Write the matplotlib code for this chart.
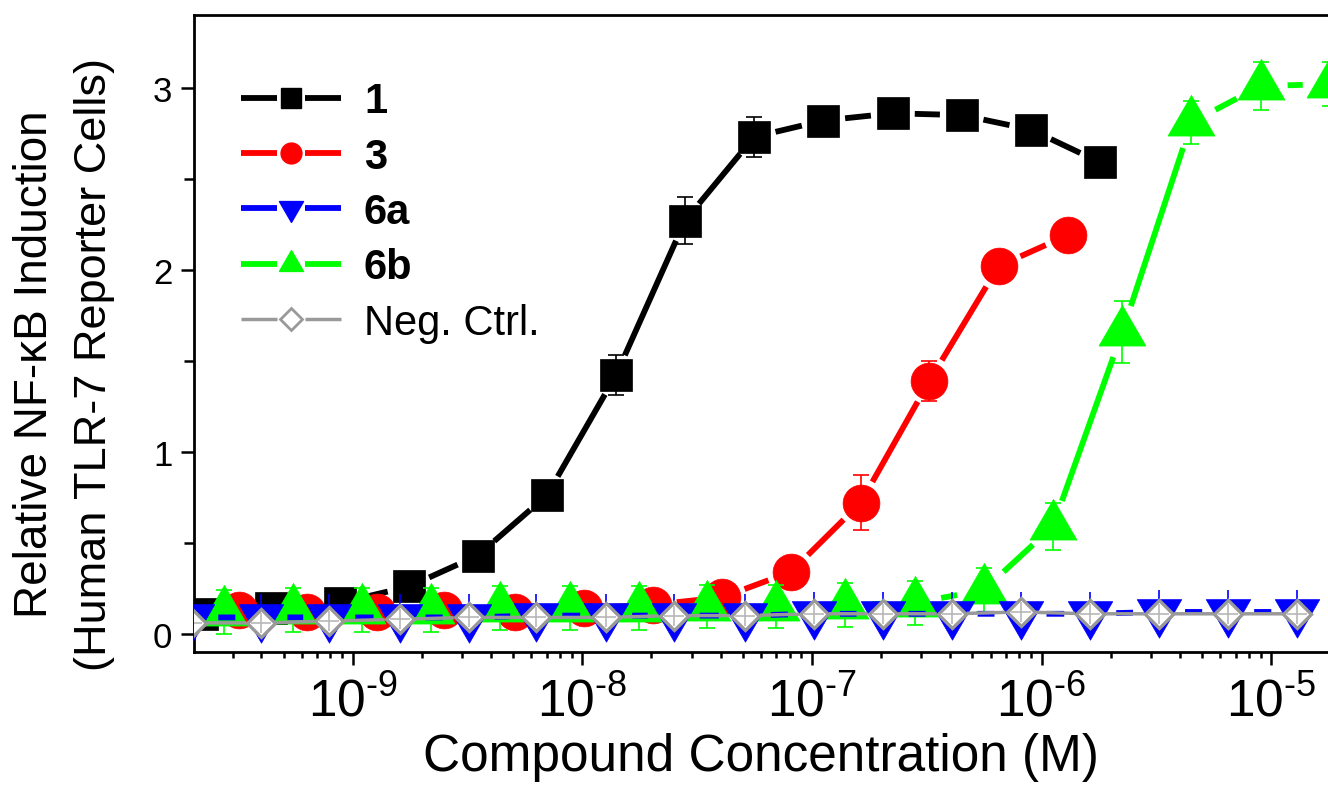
import numpy as np
import matplotlib
matplotlib.use("Agg")
import matplotlib.pyplot as plt
from matplotlib.lines import Line2D
from matplotlib.path import Path
from matplotlib.legend_handler import HandlerBase
from matplotlib.ticker import LogLocator, NullFormatter, MultipleLocator

plt.rcParams['font.family'] = ['Liberation Sans', 'DejaVu Sans']
plt.rcParams['mathtext.fontset'] = 'custom'
plt.rcParams['mathtext.rm'] = 'Liberation Sans'
plt.rcParams['mathtext.it'] = 'Liberation Sans:italic'
plt.rcParams['mathtext.bf'] = 'Liberation Sans:bold'

# compound 1
conc_1 = [2.2e-10, 4.4e-10, 8.8e-10, 1.76e-9, 3.5e-9, 7.0e-9, 1.4e-8, 2.8e-8,
          5.6e-8, 1.12e-7, 2.25e-7, 4.5e-7, 9.0e-7, 1.8e-6]
resp_1 = [0.11, 0.14, 0.17, 0.26, 0.43, 0.76, 1.42, 2.27, 2.73, 2.82, 2.86, 2.85, 2.77, 2.59]
err_1 = [0.02, 0.02, 0.02, 0.03, 0.04, 0.05, 0.11, 0.13, 0.11, 0.03, 0.03, 0.03, 0.03, 0.04]

# compound 3
conc_3 = [3.2e-10, 6.3e-10, 1.27e-9, 2.5e-9, 5.1e-9, 1.02e-8, 2.03e-8, 4.06e-8,
          8.1e-8, 1.63e-7, 3.25e-7, 6.5e-7, 1.3e-6]
resp_3 = [0.13, 0.12, 0.12, 0.13, 0.12, 0.14, 0.16, 0.20, 0.34, 0.72, 1.39, 2.02, 2.19]
err_3 = [0.03, 0.03, 0.03, 0.03, 0.04, 0.04, 0.04, 0.03, 0.04, 0.15, 0.11, 0.04, 0.03]

# compound 6a
conc_6a = [2.0e-10, 4.0e-10, 7.9e-10, 1.6e-9, 3.2e-9, 6.3e-9, 1.27e-8, 2.5e-8, 5.1e-8,
           1.02e-7, 2.03e-7, 4.06e-7, 8.1e-7, 1.63e-6, 3.25e-6, 6.5e-6, 1.3e-5]
resp_6a = [0.09, 0.09, 0.09, 0.09, 0.09, 0.10, 0.10, 0.10, 0.10, 0.11, 0.11, 0.11,
           0.11, 0.11, 0.12, 0.12, 0.12]
err_6a = [0.13, 0.13, 0.13, 0.13, 0.13, 0.12, 0.12, 0.12, 0.12, 0.12, 0.12, 0.12,
          0.12, 0.12, 0.12, 0.12, 0.12]

# compound 6b
conc_6b = [2.75e-10, 5.5e-10, 1.1e-9, 2.2e-9, 4.4e-9, 8.8e-9, 1.76e-8, 3.5e-8, 7.0e-8,
           1.4e-7, 2.8e-7, 5.6e-7, 1.12e-6, 2.25e-6, 4.5e-6, 9.0e-6, 1.8e-5]
resp_6b = [0.12, 0.13, 0.13, 0.13, 0.14, 0.14, 0.14, 0.15, 0.15, 0.16, 0.17, 0.24,
           0.59, 1.66, 2.81, 3.01, 3.02]
err_6b = [0.12, 0.12, 0.12, 0.12, 0.12, 0.12, 0.12, 0.12, 0.12, 0.12, 0.12, 0.12,
          0.13, 0.17, 0.12, 0.13, 0.12]

# negative control
conc_neg = [2.0e-10, 4.0e-10, 7.9e-10, 1.6e-9, 3.2e-9, 6.3e-9, 1.27e-8, 2.5e-8, 5.1e-8,
            1.02e-7, 2.03e-7, 4.06e-7, 8.1e-7, 1.63e-6, 3.25e-6, 6.5e-6, 1.3e-5]
resp_neg = [0.06, 0.06, 0.07, 0.08, 0.09, 0.09, 0.09, 0.10, 0.10, 0.11, 0.11, 0.11,
            0.12, 0.11, 0.11, 0.11, 0.11]

labels = ['1', '3', '6a', '6b', 'Neg. Ctrl.']
xticks = [1e-9, 1e-8, 1e-7, 1e-6, 1e-5]
xtick_labels = [r'$\mathregular{10^{\text{-9}}}$', r'$\mathregular{10^{\text{-8}}}$',
                r'$\mathregular{10^{\text{-7}}}$', r'$\mathregular{10^{\text{-6}}}$',
                r'$\mathregular{10^{\text{-5}}}$']

# triangles centred on their centroid (as Origin draws them)
tri_up = Path([(0, 1), (-0.866, -0.5), (0.866, -0.5), (0, 1)],
              [Path.MOVETO, Path.LINETO, Path.LINETO, Path.CLOSEPOLY])
tri_down = Path([(0, -1), (-0.866, 0.5), (0.866, 0.5), (0, -1)],
                [Path.MOVETO, Path.LINETO, Path.LINETO, Path.CLOSEPOLY])

fig = plt.figure(figsize=(13.28, 8.04), dpi=100)
ax = fig.add_axes([0.1461, 0.1878, 0.8539, 0.7923])
ax.set_xscale('log')
ax.set_xlim(2.036e-10, 1.769e-5)
ax.set_ylim(-0.1, 3.4)


def gap_line(xs, ys, gap_px):
    # connect points with segments shortened near each symbol
    pts = ax.transData.transform(np.column_stack([xs, ys]))
    inv = ax.transData.inverted()
    out = []
    for p, q in zip(pts[:-1], pts[1:]):
        d = q - p
        L = np.hypot(d[0], d[1])
        if L <= 2 * gap_px:
            continue
        u = d / L
        out.append(inv.transform(np.array([p + u * gap_px, q - u * gap_px])))
        out.append(np.array([[np.nan, np.nan]]))
    return np.vstack(out)


series = [
    (conc_1, resp_1, err_1, 'black', 's', 23, 22, 4.2, 5.5, 2),
    (conc_3, resp_3, err_3, '#ff0000', 'o', 26.5, 24, 4.2, 5.5, 4),
    (conc_6b, resp_6b, err_6b, '#00ff00', tri_up, 39, 27, 4.2, 5.5, 6),
    (conc_6a, resp_6a, err_6a, '#0000ff', tri_down, 37, 26, 4.2, 0, 8),
]
for xs, ys, es, col, mk, ms, gap, lw, cap, z in series:
    ax.errorbar(xs, ys, yerr=es, fmt='none', ecolor=col, elinewidth=1.2,
                capsize=cap, capthick=1.2, zorder=z)
    seg = gap_line(xs, ys, gap)
    ax.plot(seg[:, 0], seg[:, 1], color=col, lw=lw, solid_capstyle='butt', zorder=z + 0.5)
    ax.plot(xs, ys, linestyle='none', marker=mk, ms=ms, color=col, mec=col, mew=0.5,
            zorder=z + 0.6)

gray = '#999999'
seg = gap_line(conc_neg, resp_neg, 15)
ax.plot(seg[:, 0], seg[:, 1], color=gray, lw=2.5, solid_capstyle='butt', zorder=10)
ax.plot(conc_neg, resp_neg, linestyle='none', marker='D', ms=14, mfc='white', mec=gray,
        mew=2.4, zorder=10.5)
ax.plot(conc_neg, resp_neg, linestyle='none', marker='+', ms=15, color='#b8b8b8',
        mew=1.2, zorder=10.6)

# axes styling
ax.set_xticks(xticks)
ax.set_xticklabels(xtick_labels)
ax.xaxis.set_minor_locator(LogLocator(base=10, subs=np.arange(2, 10)))
ax.xaxis.set_minor_formatter(NullFormatter())
ax.yaxis.set_major_locator(MultipleLocator(1))
ax.yaxis.set_minor_locator(MultipleLocator(0.5))
ax.tick_params(axis='x', which='major', direction='out', length=9.5, width=1.8,
               labelsize=37, pad=8)
ax.tick_params(axis='x', which='minor', direction='out', length=4, width=1.8)
ax.tick_params(axis='y', which='major', direction='out', length=9.5, width=1.8,
               labelsize=25, pad=6)
ax.tick_params(axis='y', which='minor', direction='out', length=7, width=1.8)
ax.tick_params(top=False, right=False)
for s in ['left', 'bottom', 'top']:
    ax.spines[s].set_linewidth(2)
ax.spines['right'].set_visible(False)

ax.set_xlabel('Compound Concentration (M)', fontsize=37, labelpad=4)
fig.text(0.026, 0.547, 'Relative NF-\u03baB Induction', rotation=90,
         ha='center', va='center', fontsize=33)
fig.text(0.071, 0.547, '(Human TLR-7 Reporter Cells)', rotation=90,
         ha='center', va='center', fontsize=32.5)


class GapHandler(HandlerBase):
    def __init__(self, gap, **kw):
        super().__init__(**kw)
        self.gap = gap

    def create_artists(self, legend, orig_handle, xdescent, ydescent, width, height,
                       fontsize, trans):
        y = height / 2 - ydescent
        x0 = -xdescent
        xc = x0 + width / 2
        g = self.gap
        ln = Line2D([x0, xc - g, np.nan, xc + g, x0 + width], [y, y, np.nan, y, y],
                    color=orig_handle.get_color(), lw=orig_handle.get_linewidth(),
                    solid_capstyle='butt')
        mk = Line2D([xc], [y], linestyle='none', marker=orig_handle.get_marker(),
                    ms=orig_handle.get_markersize(), mfc=orig_handle.get_markerfacecolor(),
                    mec=orig_handle.get_markeredgecolor(), mew=orig_handle.get_markeredgewidth())
        ln.set_transform(trans)
        mk.set_transform(trans)
        return [ln, mk]


handles = [
    Line2D([], [], color='black', lw=4.2, marker='s', ms=14, mec='black'),
    Line2D([], [], color='#ff0000', lw=4.2, marker='o', ms=15, mec='#ff0000'),
    Line2D([], [], color='#0000ff', lw=4.2, marker=tri_down, ms=20, mec='#0000ff'),
    Line2D([], [], color='#00ff00', lw=4.2, marker=tri_up, ms=20, mec='#00ff00'),
    Line2D([], [], color=gray, lw=2.5, marker='D', ms=11, mfc='white', mec=gray, mew=2),
]
hmap = {h: GapHandler(10) for h in handles}
leg = ax.legend(handles, labels, loc='upper left', bbox_to_anchor=(0.0414, 0.896),
                frameon=False, fontsize=30, handlelength=2.4, handletextpad=0.55,
                labelspacing=0.37, borderpad=0, borderaxespad=0, handler_map=hmap)
for t in leg.get_texts()[:4]:
    t.set_fontweight('bold')

fig.savefig('out.png', dpi=100)
